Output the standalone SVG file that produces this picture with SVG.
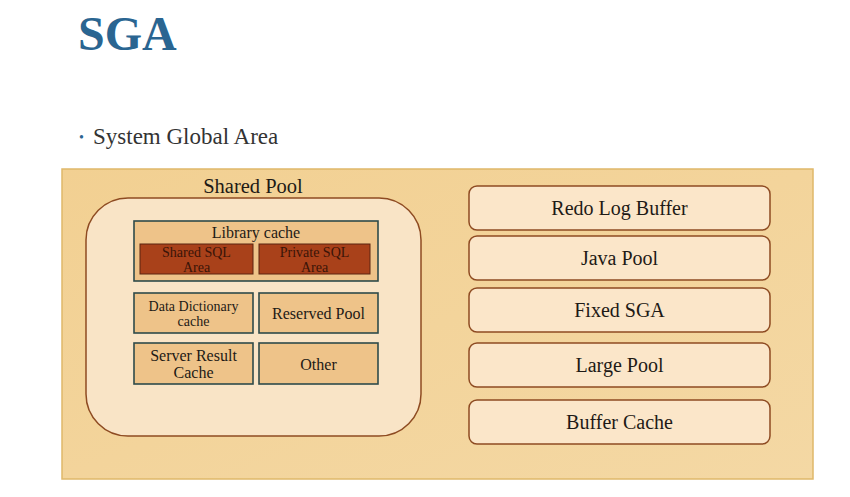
<svg xmlns="http://www.w3.org/2000/svg" width="850" height="497" viewBox="0 0 850 497">
<style>
text{font-family:"Liberation Serif","DejaVu Serif",serif;fill:#1e1a16;text-anchor:middle}
.right rect{fill:#fbe6c9;stroke:#8e4b22;stroke-width:1.5}
.right text{font-size:20px}
.cell rect{fill:#eec389;stroke:#2e4a4a;stroke-width:1.6}
.cell text{font-size:16px}
.sql rect{fill:#a9411a;stroke:#5a2410;stroke-width:1}
.sql text{font-size:14px;fill:#3a1408}
</style>
<defs>
<linearGradient id="bg" x1="0" y1="0" x2="1" y2="1">
<stop offset="0" stop-color="#f2d092"/>
<stop offset="1" stop-color="#f4d8a4"/>
</linearGradient>
</defs>
<rect width="850" height="497" fill="#ffffff"/>
<g id="title">
<text x="78" y="50" style="font-size:48px;font-weight:bold;fill:#2a6591;text-anchor:start">SGA</text>
</g>
<g id="bullet">
<text x="79" y="142" style="font-size:14px;fill:#2a6591;text-anchor:start">•</text>
<text x="93" y="144" style="font-size:23px;fill:#333333;text-anchor:start">System Global Area</text>
</g>
<g id="sga">
<rect x="62" y="169" width="751" height="310" fill="url(#bg)" stroke="#dfb86a" stroke-width="1.5"/>
</g>
<g id="shared-pool">
<text x="253" y="193" style="font-size:20.5px">Shared Pool</text>
<rect x="86" y="198" width="335" height="238" rx="42" fill="#f9e4c6" stroke="#8e4b22" stroke-width="1.5"/>
</g>
<g id="library-cache" class="cell">
<rect x="134" y="221" width="244" height="60"/>
<text x="256" y="238">Library cache</text>
</g>
<g id="shared-sql" class="sql">
<rect x="140" y="244" width="113" height="30"/>
<text x="196.5" y="257">Shared SQL</text>
<text x="196.5" y="272">Area</text>
</g>
<g id="private-sql" class="sql">
<rect x="259" y="244" width="111" height="30"/>
<text x="314.5" y="257">Private SQL</text>
<text x="314.5" y="272">Area</text>
</g>
<g id="data-dictionary" class="cell">
<rect x="134" y="293" width="119" height="40"/>
<text x="193.5" y="311" style="font-size:14px">Data Dictionary</text>
<text x="193.5" y="326" style="font-size:14px">cache</text>
</g>
<g id="reserved-pool" class="cell">
<rect x="259" y="293" width="119" height="40"/>
<text x="318.5" y="319">Reserved Pool</text>
</g>
<g id="server-result" class="cell">
<rect x="134" y="343" width="119" height="41"/>
<text x="193.5" y="361">Server Result</text>
<text x="193.5" y="378">Cache</text>
</g>
<g id="other" class="cell">
<rect x="259" y="343" width="119" height="41"/>
<text x="318.5" y="370">Other</text>
</g>
<g id="redo-log-buffer" class="right">
<rect x="469" y="186" width="301" height="44" rx="8"/>
<text x="619.5" y="215">Redo Log Buffer</text>
</g>
<g id="java-pool" class="right">
<rect x="469" y="236" width="301" height="44" rx="8"/>
<text x="619.5" y="265">Java Pool</text>
</g>
<g id="fixed-sga" class="right">
<rect x="469" y="288" width="301" height="44" rx="8"/>
<text x="619.5" y="317">Fixed SGA</text>
</g>
<g id="large-pool" class="right">
<rect x="469" y="343" width="301" height="44" rx="8"/>
<text x="619.5" y="372">Large Pool</text>
</g>
<g id="buffer-cache" class="right">
<rect x="469" y="400" width="301" height="44" rx="8"/>
<text x="619.5" y="429">Buffer Cache</text>
</g>
<g id="connectors"/>
</svg>
